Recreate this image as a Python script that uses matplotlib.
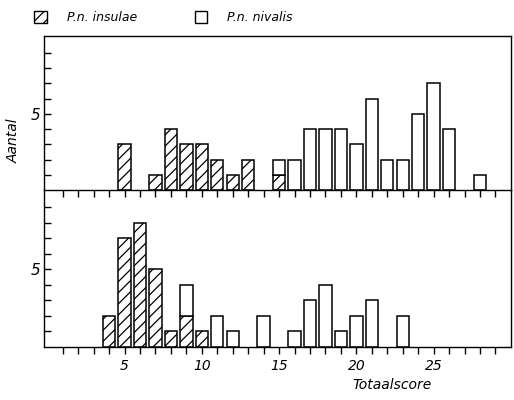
import matplotlib
matplotlib.use("Agg")
import matplotlib.pyplot as plt
from matplotlib.patches import Patch

plt.rcParams['hatch.linewidth'] = 0.9
plt.rcParams['font.family'] = ['DejaVu Sans']

scores = list(range(1, 30))

# top panel counts per score
top_insulae = [0,0,0,0,3,0,1,4,3,3,2,1,2,0,1,0,0,0,0,0,0,0,0,0,0,0,0,0,0]
top_nivalis = [0,0,0,0,0,0,0,0,0,0,0,0,0,0,1,2,4,4,4,3,6,2,2,5,7,4,0,1,0]

# bottom panel counts per score
bot_insulae = [0,0,0,2,7,8,5,1,2,1,0,0,0,0,0,0,0,0,0,0,0,0,0,0,0,0,0,0,0]
bot_nivalis = [0,0,0,0,0,0,0,0,2,0,2,1,0,2,0,1,3,4,1,2,3,0,2,0,0,0,0,0,0]

xtick_labels = ['5', '10', '15', '20', '25']
xtick_vals = [5, 10, 15, 20, 25]

fig = plt.figure(figsize=(5.14, 4.0), dpi=100)
ax2 = fig.add_axes([0.086, 0.1325, 0.908, 0.3925])
ax1 = fig.add_axes([0.086, 0.525, 0.908, 0.385])
ax2.patch.set_visible(False)
ax1.set_zorder(3)

W = 0.8
for ax, ins, niv in ((ax1, top_insulae, top_nivalis), (ax2, bot_insulae, bot_nivalis)):
    xi = [s for s, v in zip(scores, ins) if v > 0]
    hi = [v for v in ins if v > 0]
    xn = [s for s, v in zip(scores, niv) if v > 0]
    hn = [v for v in niv if v > 0]
    bn = [b for b, v in zip(ins, niv) if v > 0]
    ax.bar(xi, hi, width=W, color='white', edgecolor='black', hatch='///', linewidth=1.1)
    ax.bar(xn, hn, width=W, bottom=bn, color='white', edgecolor='black', linewidth=1.1)
    ax.set_xlim(-0.2, 30)
    ax.set_ylim(0, 10.1)
    ax.set_xticks(scores)
    ax.set_yticks(range(1, 10))
    ax.set_yticklabels(['' if v != 5 else '5' for v in range(1, 10)],
                       fontsize=11, fontstyle='italic')
    ax.tick_params(axis='y', direction='in', length=5, width=1, pad=3)
    ax.tick_params(axis='x', direction='out', length=5, width=1)
    for s in ax.spines.values():
        s.set_linewidth(1.0)

ax1.set_xticklabels([])
ax2.set_xticklabels([str(v) if v in xtick_vals else '' for v in scores],
                    fontsize=10, fontstyle='italic')
ax2.spines['top'].set_visible(False)

ax1.set_ylabel('Aantal', fontsize=10, fontstyle='italic')
ax1.yaxis.set_label_coords(-0.05, 0.32)
ax2.set_xlabel('Totaalscore', fontsize=10, fontstyle='italic')
ax2.xaxis.set_label_coords(0.745, -0.2)

handles = [Patch(facecolor='white', edgecolor='black', hatch='///', linewidth=1.0),
           Patch(facecolor='white', edgecolor='black', linewidth=1.0)]
fig.legend(handles, ['P.n. insulae', 'P.n. nivalis'], ncol=2, loc='upper left',
           bbox_to_anchor=(0.045, 1.0), frameon=False, handlelength=1.0,
           handleheight=1.0, columnspacing=4.6, handletextpad=1.6,
           prop={'size': 9, 'style': 'italic'})

fig.savefig('out.png', dpi=100)
